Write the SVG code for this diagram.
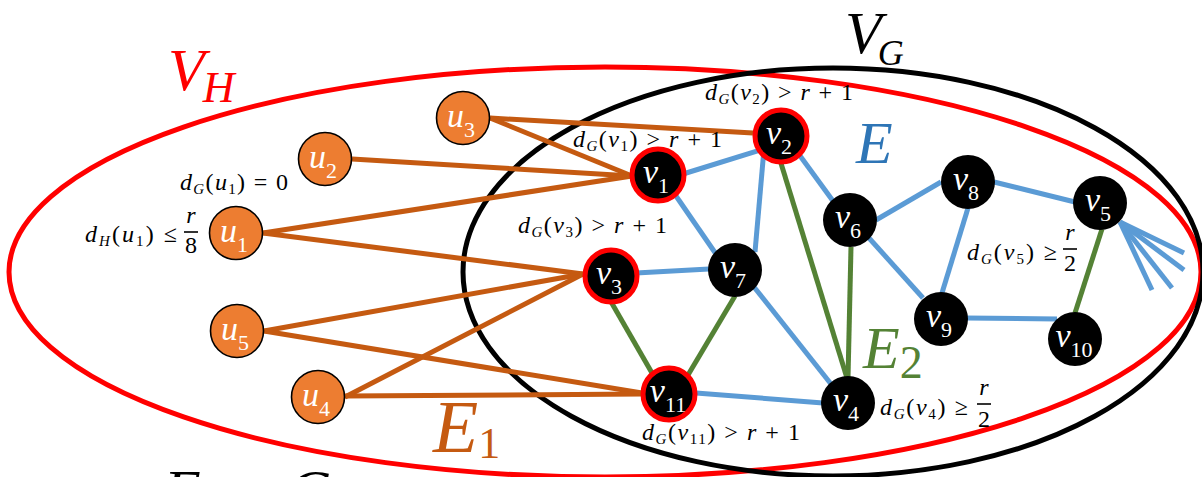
<svg xmlns="http://www.w3.org/2000/svg" width="1202" height="477" viewBox="0 0 1202 477">
<style>
.bg{fill:#fff}
.ell{fill:none;stroke-width:5}
.eb{stroke:#C55A11;stroke-width:5;stroke-linecap:butt}
.el{stroke:#5B9BD5;stroke-width:5}
.eg{stroke:#548235;stroke-width:5}
.un{fill:#ED7D31;stroke:#000;stroke-width:1.6}
.vn{fill:#000}
.vr{fill:#000;stroke:#FF0000;stroke-width:5}
.nl{font-family:"Liberation Serif",serif;fill:#fff;text-anchor:middle}
.nv{font-style:italic;font-size:34px}
.ns{font-size:22px}
.t{font-family:"Liberation Serif",serif;font-size:24px;fill:#000}
.i{font-style:italic}
.sb{font-size:15px}
.big{font-family:"Liberation Serif",serif;font-style:italic}
.fr{stroke:#000;stroke-width:1.6}
</style>
<rect class="bg" x="0" y="0" width="1202" height="477"/>
<g id="sets">
<ellipse class="ell" cx="605" cy="272" rx="596" ry="205" stroke="#FF0000"/>
<ellipse class="ell" cx="833" cy="272" rx="370" ry="204" stroke="#000"/>
</g>
<g id="connectors">
<line class="eb" x1="490" y1="118" x2="753" y2="133"/>
<line class="eb" x1="490" y1="118" x2="632" y2="176"/>
<line class="eb" x1="352" y1="159" x2="632" y2="176"/>
<line class="eb" x1="263" y1="233" x2="632" y2="176"/>
<line class="eb" x1="263" y1="233" x2="583" y2="274"/>
<line class="eb" x1="264" y1="331" x2="583" y2="274"/>
<line class="eb" x1="264" y1="331" x2="642" y2="393"/>
<line class="eb" x1="345" y1="397" x2="583" y2="274"/>
<line class="eb" x1="345" y1="396" x2="642" y2="394"/>
<line class="el" x1="683" y1="174" x2="764" y2="149"/>
<line class="el" x1="676" y1="196" x2="716" y2="254"/>
<line class="el" x1="764" y1="149" x2="755" y2="252"/>
<line class="el" x1="798" y1="153" x2="833" y2="201"/>
<line class="el" x1="636" y1="273" x2="709" y2="269"/>
<line class="el" x1="754" y1="287" x2="831" y2="384"/>
<line class="el" x1="696" y1="393" x2="823" y2="403"/>
<line class="el" x1="876" y1="220" x2="941" y2="182"/>
<line class="el" x1="869" y1="238" x2="923" y2="298"/>
<line class="el" x1="994" y1="182" x2="1075" y2="202"/>
<line class="el" x1="968" y1="208" x2="942" y2="293"/>
<line class="el" x1="966" y1="318" x2="1057" y2="319"/>
<line class="el" x1="1120" y1="222" x2="1184" y2="253"/>
<line class="el" x1="1120" y1="222" x2="1184" y2="270"/>
<line class="el" x1="1120" y1="222" x2="1172" y2="288"/>
<line class="el" x1="1120" y1="222" x2="1152" y2="290"/>
<line class="eg" x1="780" y1="160" x2="847" y2="378"/>
<line class="eg" x1="851" y1="247" x2="848" y2="378"/>
<line class="eg" x1="610" y1="300" x2="652" y2="373"/>
<line class="eg" x1="735" y1="296" x2="688" y2="375"/>
<line class="eg" x1="1102" y1="229" x2="1075" y2="313"/>
</g>
<g id="u3"><circle class="un" cx="463" cy="118" r="26.5"/><text class="nl" x="461" y="127"><tspan class="nv">u</tspan><tspan class="ns" dy="10">3</tspan></text></g>
<g id="u2"><circle class="un" cx="325" cy="159" r="26.5"/><text class="nl" x="323" y="168"><tspan class="nv">u</tspan><tspan class="ns" dy="10">2</tspan></text></g>
<g id="u1"><circle class="un" cx="236" cy="233" r="26.5"/><text class="nl" x="234" y="242"><tspan class="nv">u</tspan><tspan class="ns" dy="10">1</tspan></text></g>
<g id="u5"><circle class="un" cx="237" cy="331" r="26.5"/><text class="nl" x="235" y="340"><tspan class="nv">u</tspan><tspan class="ns" dy="10">5</tspan></text></g>
<g id="u4"><circle class="un" cx="318" cy="397" r="26.5"/><text class="nl" x="316" y="406"><tspan class="nv">u</tspan><tspan class="ns" dy="10">4</tspan></text></g>
<g id="v1"><circle class="vr" cx="658" cy="175" r="26"/><text class="nl" x="656" y="183"><tspan class="nv">v</tspan><tspan class="ns" dy="10">1</tspan></text></g>
<g id="v2"><circle class="vr" cx="781" cy="136" r="26"/><text class="nl" x="779" y="144"><tspan class="nv">v</tspan><tspan class="ns" dy="10">2</tspan></text></g>
<g id="v3"><circle class="vr" cx="611" cy="276" r="26"/><text class="nl" x="609" y="284"><tspan class="nv">v</tspan><tspan class="ns" dy="10">3</tspan></text></g>
<g id="v11"><circle class="vr" cx="669" cy="394" r="26"/><text class="nl" x="668" y="402"><tspan class="nv">v</tspan><tspan class="ns" dy="10">11</tspan></text></g>
<g id="v7"><circle class="vn" cx="735" cy="270" r="27"/><text class="nl" x="733" y="278"><tspan class="nv">v</tspan><tspan class="ns" dy="10">7</tspan></text></g>
<g id="v6"><circle class="vn" cx="850" cy="220" r="27"/><text class="nl" x="848" y="228"><tspan class="nv">v</tspan><tspan class="ns" dy="10">6</tspan></text></g>
<g id="v8"><circle class="vn" cx="968" cy="182" r="27"/><text class="nl" x="966" y="190"><tspan class="nv">v</tspan><tspan class="ns" dy="10">8</tspan></text></g>
<g id="v5"><circle class="vn" cx="1100" cy="203" r="27"/><text class="nl" x="1098" y="211"><tspan class="nv">v</tspan><tspan class="ns" dy="10">5</tspan></text></g>
<g id="v9"><circle class="vn" cx="941" cy="319" r="27"/><text class="nl" x="939" y="327"><tspan class="nv">v</tspan><tspan class="ns" dy="10">9</tspan></text></g>
<g id="v10"><circle class="vn" cx="1075" cy="339" r="27"/><text class="nl" x="1074" y="347"><tspan class="nv">v</tspan><tspan class="ns" dy="10">10</tspan></text></g>
<g id="v4"><circle class="vn" cx="848" cy="403" r="27"/><text class="nl" x="846" y="411"><tspan class="nv">v</tspan><tspan class="ns" dy="10">4</tspan></text></g>
<g id="labels">
<text class="big" x="168" y="90" font-size="60" fill="#FF0000">V<tspan font-size="44" dy="12" dx="-2">H</tspan></text>
<text class="big" x="845" y="53" font-size="60" fill="#000">V<tspan font-size="36" dy="12" dx="-4">G</tspan></text>
<text class="big" x="856" y="163" font-size="60" fill="#2E75B6">E</text>
<text class="big" x="433" y="452" font-size="74" fill="#C55A11">E<tspan font-size="44" font-style="normal" dy="6">1</tspan></text>
<text class="big" x="863" y="368" font-size="60" fill="#548235">E<tspan font-size="46" font-style="normal" dy="10">2</tspan></text>
<text class="big" x="164" y="511" font-size="60" fill="#000">E</text>
<text class="big" x="288" y="511" font-size="60" fill="#000">G</text>
<text class="t" x="180" y="190" textLength="108" lengthAdjust="spacing"><tspan class="i">d</tspan><tspan class="i sb" dy="4">G</tspan><tspan dy="-4">(</tspan><tspan class="i">u</tspan><tspan class="sb" dy="4">1</tspan><tspan dy="-4">) = 0</tspan></text>
<text class="t" x="85" y="242" textLength="92" lengthAdjust="spacing"><tspan class="i">d</tspan><tspan class="i sb" dy="4">H</tspan><tspan dy="-4">(</tspan><tspan class="i">u</tspan><tspan class="sb" dy="4">1</tspan><tspan dy="-4">) ≤</tspan></text>
<text class="t i" x="191" y="223" text-anchor="middle">r</text>
<line class="fr" x1="184" y1="232" x2="198" y2="232"/>
<text class="t" x="191" y="253" text-anchor="middle">8</text>
<text class="t" x="705" y="100" textLength="148" lengthAdjust="spacing"><tspan class="i">d</tspan><tspan class="i sb" dy="4">G</tspan><tspan dy="-4">(</tspan><tspan class="i">v</tspan><tspan class="sb" dy="4">2</tspan><tspan dy="-4">) &gt; </tspan><tspan class="i">r</tspan><tspan> + 1</tspan></text>
<text class="t" x="573" y="147" textLength="149" lengthAdjust="spacing"><tspan class="i">d</tspan><tspan class="i sb" dy="4">G</tspan><tspan dy="-4">(</tspan><tspan class="i">v</tspan><tspan class="sb" dy="4">1</tspan><tspan dy="-4">) &gt; </tspan><tspan class="i">r</tspan><tspan> + 1</tspan></text>
<text class="t" x="518" y="233" textLength="149" lengthAdjust="spacing"><tspan class="i">d</tspan><tspan class="i sb" dy="4">G</tspan><tspan dy="-4">(</tspan><tspan class="i">v</tspan><tspan class="sb" dy="4">3</tspan><tspan dy="-4">) &gt; </tspan><tspan class="i">r</tspan><tspan> + 1</tspan></text>
<text class="t" x="642" y="440" textLength="158" lengthAdjust="spacing"><tspan class="i">d</tspan><tspan class="i sb" dy="4">G</tspan><tspan dy="-4">(</tspan><tspan class="i">v</tspan><tspan class="sb" dy="4">11</tspan><tspan dy="-4">) &gt; </tspan><tspan class="i">r</tspan><tspan> + 1</tspan></text>
<text class="t" x="880" y="415" textLength="88" lengthAdjust="spacing"><tspan class="i">d</tspan><tspan class="i sb" dy="4">G</tspan><tspan dy="-4">(</tspan><tspan class="i">v</tspan><tspan class="sb" dy="4">4</tspan><tspan dy="-4">) ≥</tspan></text>
<text class="t i" x="984" y="395" text-anchor="middle">r</text>
<line class="fr" x1="977" y1="404" x2="991" y2="404"/>
<text class="t" x="984" y="427" text-anchor="middle">2</text>
<text class="t" x="967" y="260" textLength="90" lengthAdjust="spacing"><tspan class="i">d</tspan><tspan class="i sb" dy="4">G</tspan><tspan dy="-4">(</tspan><tspan class="i">v</tspan><tspan class="sb" dy="4">5</tspan><tspan dy="-4">) ≥</tspan></text>
<text class="t i" x="1070" y="240" text-anchor="middle">r</text>
<line class="fr" x1="1063" y1="249" x2="1077" y2="249"/>
<text class="t" x="1070" y="271" text-anchor="middle">2</text>
</g>
</svg>
